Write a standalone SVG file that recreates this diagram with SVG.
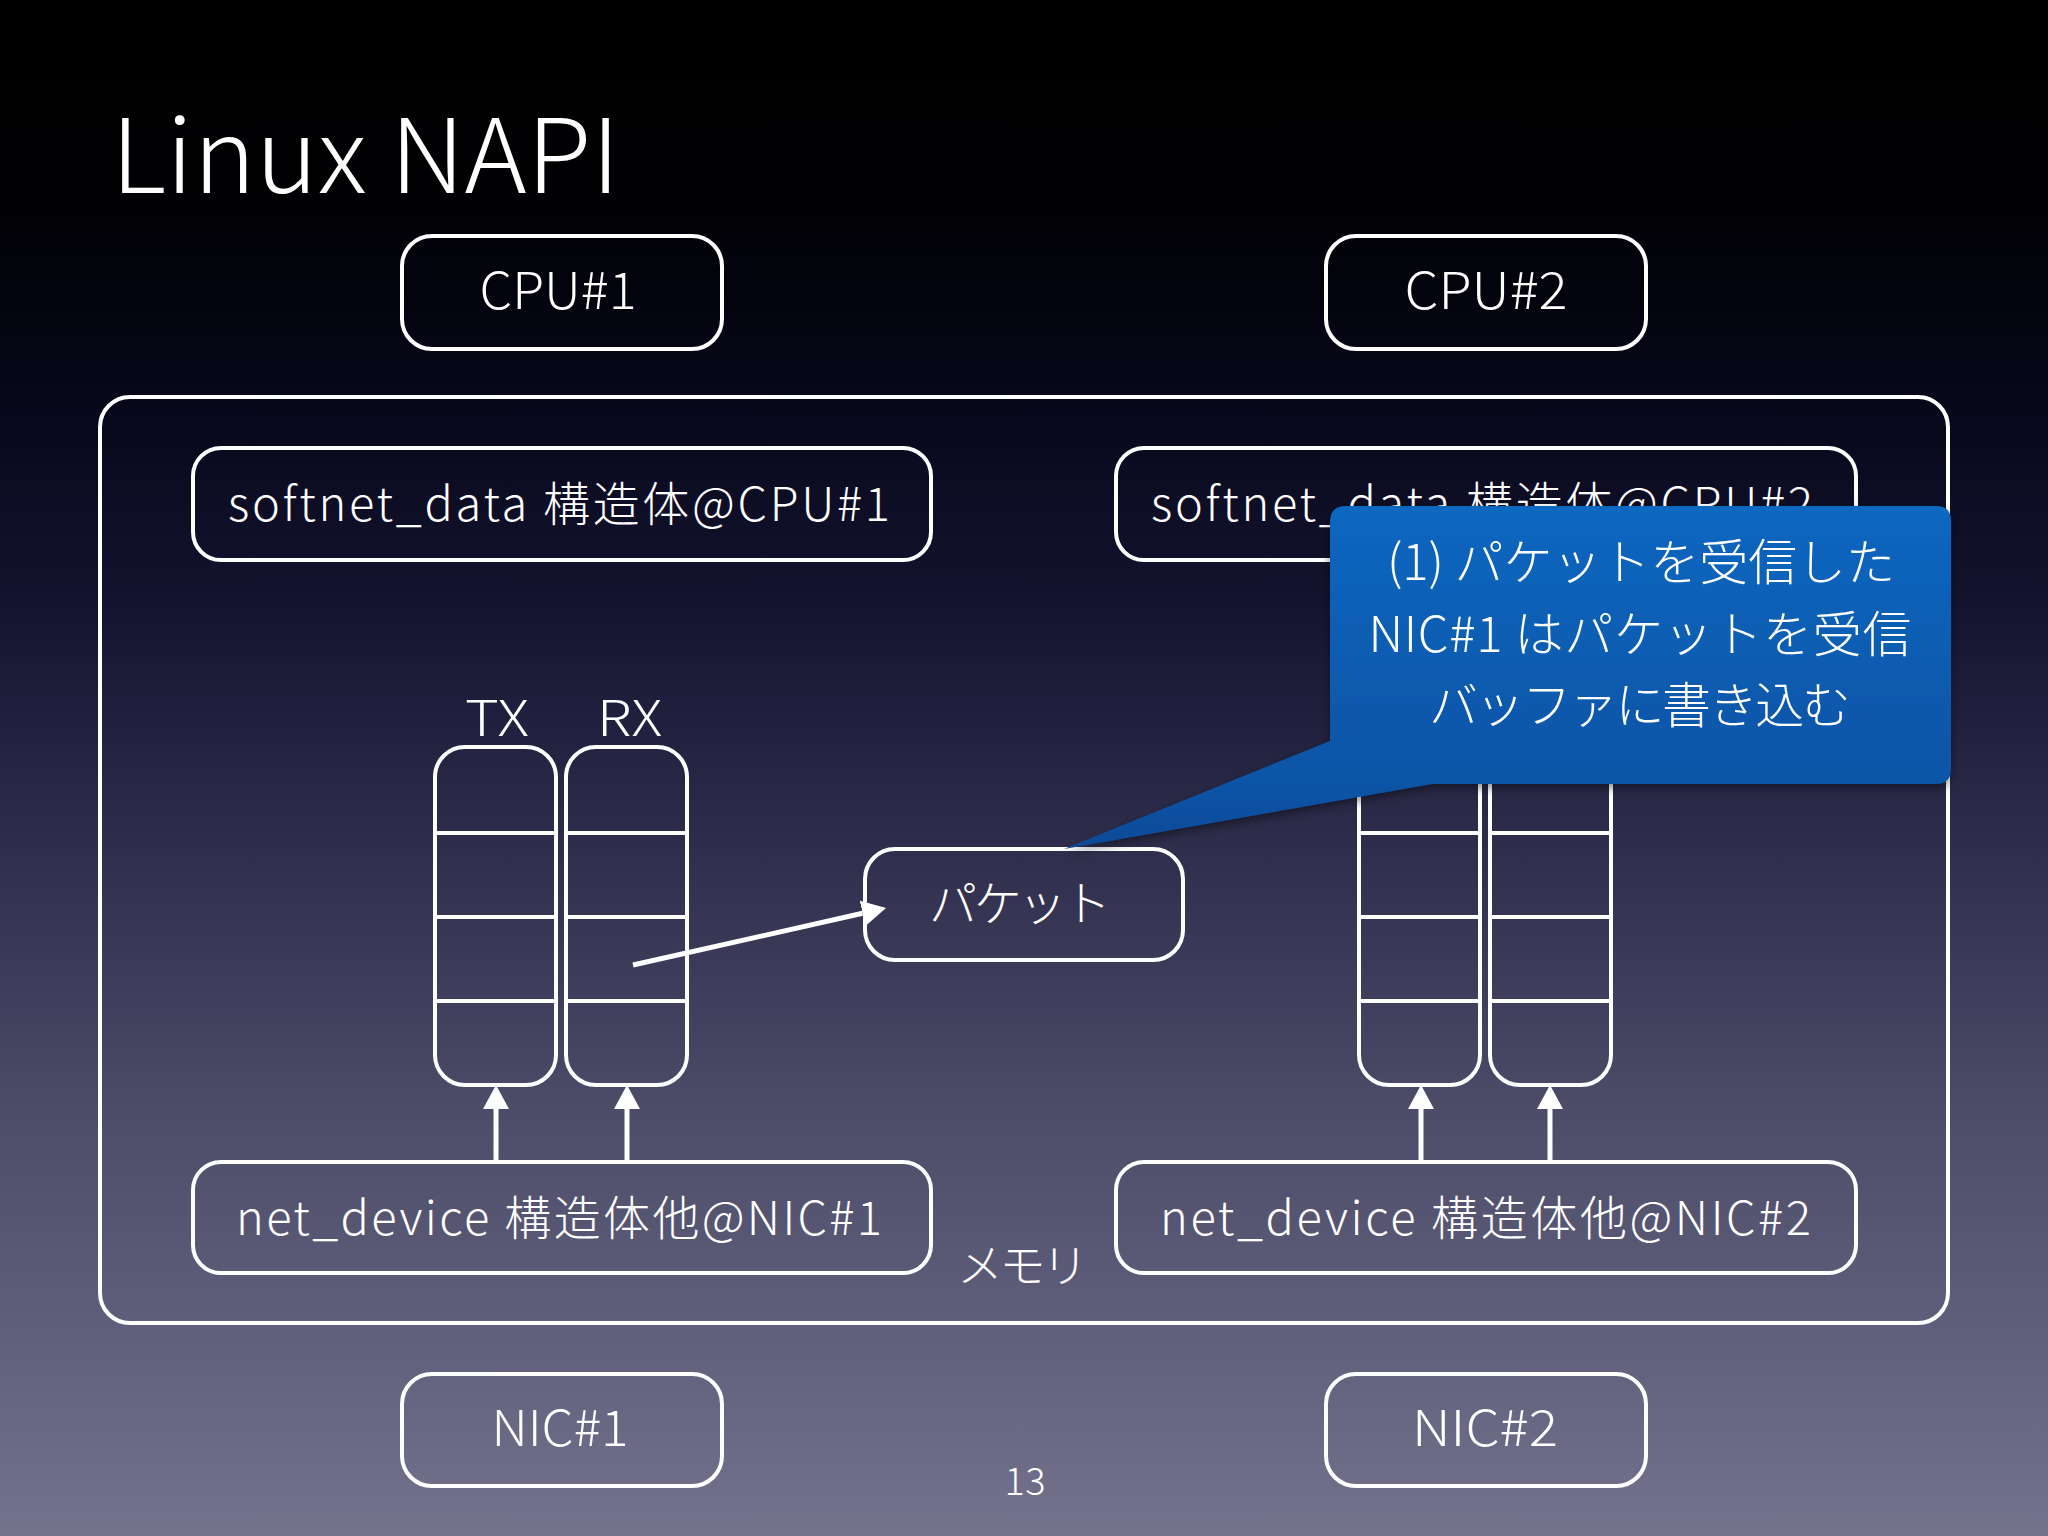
<svg xmlns="http://www.w3.org/2000/svg" width="2048" height="1536" viewBox="0 0 2048 1536">
<defs>
<linearGradient id="bg" x1="0" y1="0" x2="0" y2="1">
<stop offset="0" stop-color="#000000"/>
<stop offset="0.13" stop-color="#010104"/>
<stop offset="0.26" stop-color="#07071a"/>
<stop offset="0.39" stop-color="#13132f"/>
<stop offset="0.46" stop-color="#1f1f3d"/>
<stop offset="0.65" stop-color="#3f3e5c"/>
<stop offset="0.72" stop-color="#4c4b68"/>
<stop offset="0.85" stop-color="#5e5d79"/>
<stop offset="1" stop-color="#74728d"/>
</linearGradient>
<linearGradient id="blue" gradientUnits="userSpaceOnUse" x1="0" y1="506" x2="0" y2="850">
<stop offset="0" stop-color="#0b67c0"/>
<stop offset="0.8" stop-color="#0a54a6"/>
<stop offset="1" stop-color="#0a4a98"/>
</linearGradient>
<filter id="sh" x="-10%" y="-10%" width="120%" height="130%">
<feDropShadow dx="0" dy="4" stdDeviation="5" flood-color="#000" flood-opacity="0.45"/>
</filter>
<marker id="ah" markerUnits="userSpaceOnUse" markerWidth="26" markerHeight="26" refX="0" refY="13" orient="auto">
<path d="M0,0 L24,13 L0,26 Z" fill="#ffffff"/>
</marker>
</defs>
<style>
.t{font-family:"Noto Sans CJK JP","Noto Sans",sans-serif;font-weight:300;fill:#ffffff}
.box{fill:none;stroke:#ffffff;stroke-width:4}
.div{stroke:#ffffff;stroke-width:4}
.conn{stroke:#ffffff;stroke-width:5;fill:none}
</style>
<rect x="0" y="0" width="2048" height="1536" fill="url(#bg)"/>
<text class="t" x="111" y="193" font-size="103" textLength="509" lengthAdjust="spacingAndGlyphs">Linux NAPI</text>

<g id="cpu1"><rect class="box" x="402" y="236" width="320" height="113" rx="30"/><text class="t" x="558" y="309" font-size="51" text-anchor="middle" textLength="157" lengthAdjust="spacingAndGlyphs">CPU#1</text></g>
<g id="cpu2"><rect class="box" x="1326" y="236" width="320" height="113" rx="30"/><text class="t" x="1486" y="309" font-size="51" text-anchor="middle" textLength="163" lengthAdjust="spacingAndGlyphs">CPU#2</text></g>

<g id="memory"><rect class="box" x="100" y="397" width="1848" height="926" rx="30"/><text class="t" x="957" y="1282" font-size="46" textLength="131" lengthAdjust="spacing">メモリ</text></g>

<g id="softnet1"><rect class="box" x="193" y="448" width="738" height="112" rx="28"/><text class="t" x="228" y="521" font-size="47" textLength="662" lengthAdjust="spacing">softnet_data 構造体@CPU#1</text></g>
<g id="softnet2"><rect class="box" x="1116" y="448" width="740" height="112" rx="28"/><text class="t" x="1151" y="521" font-size="47" textLength="662" lengthAdjust="spacing">softnet_data 構造体@CPU#2</text></g>

<g id="queues1">
<text class="t" x="465" y="736" font-size="50" textLength="64" lengthAdjust="spacingAndGlyphs">TX</text>
<text class="t" x="597" y="736" font-size="50" textLength="65" lengthAdjust="spacingAndGlyphs">RX</text>
<rect class="box" x="435" y="747" width="121" height="338" rx="30"/>
<line class="div" x1="435" y1="833" x2="556" y2="833"/><line class="div" x1="435" y1="917" x2="556" y2="917"/><line class="div" x1="435" y1="1001" x2="556" y2="1001"/>
<rect class="box" x="566" y="747" width="121" height="338" rx="30"/>
<line class="div" x1="566" y1="833" x2="687" y2="833"/><line class="div" x1="566" y1="917" x2="687" y2="917"/><line class="div" x1="566" y1="1001" x2="687" y2="1001"/>
</g>
<g id="queues2">
<rect class="box" x="1359" y="747" width="121" height="338" rx="30"/>
<line class="div" x1="1359" y1="833" x2="1480" y2="833"/><line class="div" x1="1359" y1="917" x2="1480" y2="917"/><line class="div" x1="1359" y1="1001" x2="1480" y2="1001"/>
<rect class="box" x="1490" y="747" width="121" height="338" rx="30"/>
<line class="div" x1="1490" y1="833" x2="1611" y2="833"/><line class="div" x1="1490" y1="917" x2="1611" y2="917"/><line class="div" x1="1490" y1="1001" x2="1611" y2="1001"/>
</g>

<g id="packet"><rect class="box" x="865" y="849" width="318" height="111" rx="30"/><text class="t" x="929" y="921" font-size="48" textLength="182" lengthAdjust="spacing">パケット</text></g>

<g id="netdev1"><rect class="box" x="193" y="1162" width="738" height="111" rx="28"/><text class="t" x="236" y="1235" font-size="47" textLength="646" lengthAdjust="spacing">net_device 構造体他@NIC#1</text></g>
<g id="netdev2"><rect class="box" x="1116" y="1162" width="740" height="111" rx="28"/><text class="t" x="1160" y="1235" font-size="47" textLength="651" lengthAdjust="spacing">net_device 構造体他@NIC#2</text></g>

<g id="nic1"><rect class="box" x="402" y="1374" width="320" height="112" rx="30"/><text class="t" x="560" y="1446" font-size="50" text-anchor="middle" textLength="137" lengthAdjust="spacingAndGlyphs">NIC#1</text></g>
<g id="nic2"><rect class="box" x="1326" y="1374" width="320" height="112" rx="30"/><text class="t" x="1485" y="1446" font-size="50" text-anchor="middle" textLength="146" lengthAdjust="spacingAndGlyphs">NIC#2</text></g>

<g id="connectors">
<line class="conn" x1="496" y1="1161" x2="496" y2="1109" marker-end="url(#ah)"/>
<line class="conn" x1="627" y1="1161" x2="627" y2="1109" marker-end="url(#ah)"/>
<line class="conn" x1="1421" y1="1161" x2="1421" y2="1109" marker-end="url(#ah)"/>
<line class="conn" x1="1550" y1="1161" x2="1550" y2="1109" marker-end="url(#ah)"/>
<line class="conn" x1="633" y1="965" x2="862.6" y2="913.3" marker-end="url(#ah)"/>
</g>

<g id="callout" filter="url(#sh)">
<path d="M1346,506 H1936 Q1951,506 1951,521 V769 Q1951,784 1936,784 H1432 L1064,849 L1330,741 V522 Q1330,506 1346,506 Z" fill="url(#blue)"/>
<text class="t" x="1641" y="580" font-size="49" text-anchor="middle" textLength="508" lengthAdjust="spacing">(1) パケットを受信した</text>
<text class="t" x="1640" y="652" font-size="49" text-anchor="middle" textLength="543" lengthAdjust="spacing">NIC#1 はパケットを受信</text>
<text class="t" x="1640" y="723" font-size="49" text-anchor="middle" textLength="422" lengthAdjust="spacing">バッファに書き込む</text>
</g>

<text class="t" x="1025" y="1495" font-size="38" text-anchor="middle" textLength="41" lengthAdjust="spacing">13</text>
</svg>
